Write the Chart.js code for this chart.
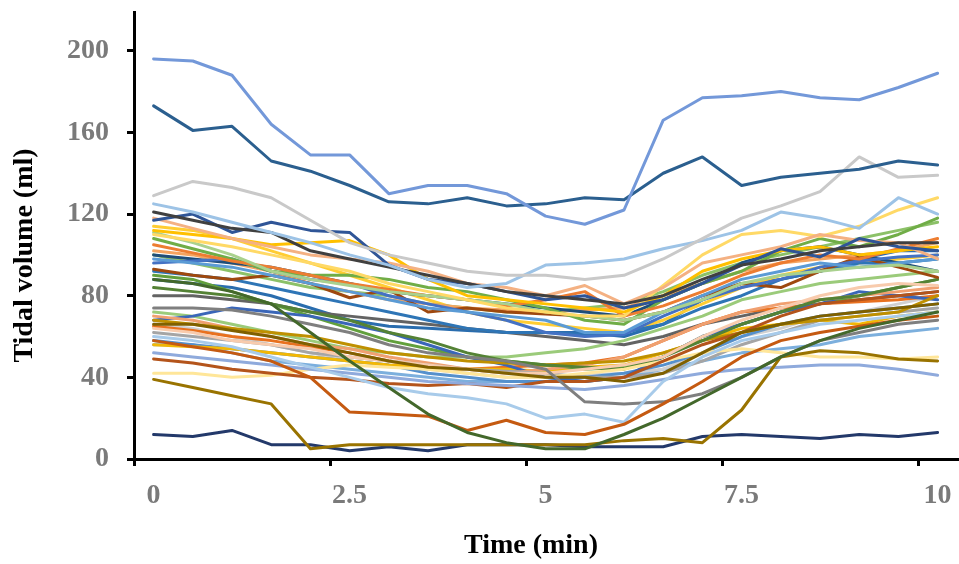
<!DOCTYPE html>
<html>
<head>
<meta charset="utf-8">
<script src="https://cdn.jsdelivr.net/npm/chart.js@4/dist/chart.umd.min.js"></script>
<style>
  html, body { margin: 0; padding: 0; background: #fff; }
  canvas { display: block; }
</style>
</head>
<body>
<canvas id="tvChart" width="959" height="564"></canvas>
<script>
// time points (min)
const times = [0, 0.5, 1, 1.5, 2, 2.5, 3, 3.5, 4, 4.5, 5, 5.5, 6, 6.5, 7, 7.5, 8, 8.5, 9, 9.5, 10];

// tidal volume per subject (ml)
const p01 = [196, 195, 188, 164, 149, 149, 130, 134, 134, 130, 119, 115, 122, 166, 177, 178, 180, 177, 176, 182, 189];
const p02 = [173, 161, 163, 146, 141, 134, 126, 125, 128, 124, 125, 128, 127, 140, 148, 134, 138, 140, 142, 146, 144];
const p03 = [129, 136, 133, 128, 117, 106, 100, 96, 92, 90, 90, 88, 90, 98, 108, 118, 124, 131, 148, 138, 139];
const p04 = [125, 121, 116, 111, 106, 100, 95, 88, 84, 86, 95, 96, 98, 103, 107, 112, 121, 118, 113, 128, 120];
const p05 = [121, 117, 113, 111, 102, 98, 94, 90, 86, 82, 80, 78, 76, 80, 88, 95, 98, 102, 104, 106, 106];
const p06 = [117, 120, 111, 116, 112, 111, 95, 88, 86, 82, 78, 80, 74, 78, 86, 95, 103, 99, 108, 104, 102];
const p07 = [118, 113, 108, 104, 100, 98, 96, 92, 86, 84, 80, 85, 76, 84, 96, 100, 104, 110, 107, 106, 98];
const p08 = [112, 110, 108, 105, 106, 107, 100, 88, 80, 78, 76, 74, 72, 80, 92, 98, 102, 104, 100, 102, 104];
const p09 = [110, 107, 104, 100, 96, 92, 86, 82, 78, 74, 72, 70, 70, 85, 100, 110, 112, 109, 114, 122, 128];
const p10 = [111, 106, 100, 92, 88, 85, 82, 80, 78, 76, 72, 70, 68, 72, 78, 86, 90, 92, 94, 95, 92];
const p11 = [105, 101, 97, 94, 90, 86, 83, 80, 78, 75, 78, 82, 70, 75, 82, 90, 96, 100, 98, 103, 108];
const p12 = [108, 103, 98, 92, 90, 90, 88, 84, 82, 78, 74, 68, 66, 78, 86, 92, 102, 108, 104, 110, 118];
const p13 = [98, 96, 94, 90, 86, 82, 78, 74, 72, 70, 68, 62, 62, 72, 80, 88, 92, 96, 94, 96, 98];
const p14 = [96, 97, 98, 92, 88, 86, 80, 76, 72, 68, 62, 60, 61, 70, 78, 84, 88, 94, 97, 99, 100];
const p15 = [93, 90, 88, 90, 86, 79, 83, 72, 74, 72, 71, 70, 68, 72, 80, 86, 84, 92, 99, 94, 89];
const p16 = [88, 86, 82, 76, 62, 48, 35, 22, 13, 8, 5, 5, 12, 20, 30, 40, 50, 58, 64, 68, 72];
const p17 = [39, 35, 31, 27, 5, 7, 7, 7, 7, 7, 7, 7, 9, 10, 8, 24, 50, 53, 52, 49, 48];
const p18 = [12, 11, 14, 7, 7, 4, 6, 4, 7, 7, 7, 6, 6, 6, 11, 12, 11, 10, 12, 11, 13];
const p19 = [58, 55, 52, 48, 40, 23, 22, 21, 14, 19, 13, 12, 17, 27, 38, 50, 58, 62, 65, 68, 70];
const p20 = [60, 58, 55, 50, 45, 40, 35, 32, 30, 27, 20, 22, 18, 38, 50, 58, 62, 66, 68, 70, 72];
const p21 = [74, 74, 73, 70, 66, 62, 56, 52, 50, 48, 44, 28, 27, 28, 32, 40, 50, 58, 62, 66, 68];
const p22 = [52, 50, 48, 46, 44, 42, 40, 38, 37, 36, 35, 34, 36, 39, 42, 44, 45, 46, 46, 44, 41];
const p23 = [66, 66, 63, 60, 56, 52, 48, 45, 44, 42, 40, 40, 38, 42, 52, 62, 66, 70, 72, 74, 76];
const p24 = [49, 47, 44, 42, 40, 39, 37, 36, 37, 35, 38, 38, 40, 48, 56, 62, 70, 76, 78, 80, 82];
const p25 = [64, 62, 58, 56, 54, 50, 48, 46, 44, 42, 42, 44, 46, 50, 60, 68, 74, 80, 84, 86, 85];
const p26 = [42, 42, 40, 41, 44, 46, 45, 44, 42, 40, 40, 42, 44, 48, 52, 54, 52, 50, 50, 49, 50];
const p27 = [92, 90, 88, 84, 80, 76, 72, 68, 64, 62, 62, 61, 62, 66, 74, 80, 88, 92, 96, 96, 98];
const p28 = [84, 82, 80, 76, 72, 68, 62, 58, 52, 48, 46, 45, 44, 50, 58, 66, 72, 78, 80, 84, 88];
const p29 = [68, 66, 64, 62, 60, 56, 52, 50, 48, 47, 46, 47, 48, 52, 58, 62, 66, 68, 70, 72, 80];
const p30 = [62, 60, 58, 56, 52, 50, 48, 46, 44, 43, 42, 40, 40, 42, 48, 56, 62, 68, 70, 72, 74];
const p31 = [70, 68, 64, 60, 56, 54, 50, 47, 44, 42, 44, 46, 50, 58, 66, 72, 76, 78, 80, 82, 84];
const p32 = [68, 70, 74, 72, 70, 66, 62, 56, 50, 46, 40, 38, 40, 50, 60, 66, 72, 76, 82, 80, 78];
const p33 = [90, 88, 82, 76, 70, 64, 58, 54, 50, 48, 46, 44, 45, 50, 60, 66, 72, 76, 80, 84, 88];
const p34 = [56, 55, 54, 52, 50, 48, 46, 45, 44, 44, 43, 45, 46, 52, 58, 64, 66, 68, 66, 70, 72];
const p35 = [65, 63, 60, 58, 55, 52, 48, 45, 44, 45, 46, 47, 50, 58, 66, 72, 74, 76, 77, 78, 80];
const p36 = [58, 56, 54, 52, 50, 48, 46, 42, 40, 38, 38, 40, 42, 46, 52, 60, 66, 70, 72, 74, 76];
const p37 = [72, 70, 66, 62, 58, 54, 52, 50, 50, 50, 52, 54, 58, 64, 70, 78, 82, 86, 88, 90, 92];
const p38 = [100, 98, 96, 94, 90, 86, 82, 80, 78, 76, 74, 72, 70, 78, 86, 96, 102, 104, 100, 96, 92];
const p39 = [66, 64, 60, 56, 52, 48, 46, 44, 42, 40, 40, 41, 42, 44, 52, 60, 64, 70, 72, 76, 80];
const p40 = [102, 100, 96, 92, 86, 82, 78, 76, 74, 73, 72, 73, 74, 80, 86, 92, 96, 98, 100, 102, 106];
const p41 = [100, 96, 92, 88, 84, 82, 80, 76, 74, 72, 72, 74, 76, 82, 90, 96, 100, 104, 108, 112, 116];
const p42 = [114, 112, 108, 102, 96, 90, 84, 78, 72, 68, 66, 64, 62, 68, 76, 84, 90, 94, 96, 98, 100];
const p43 = [56, 56, 52, 48, 46, 44, 42, 40, 38, 38, 38, 38, 40, 44, 48, 52, 54, 56, 60, 62, 64];
const p44 = [80, 80, 78, 76, 72, 70, 68, 66, 64, 62, 60, 58, 56, 60, 66, 70, 74, 76, 78, 80, 82];
const p45 = [88, 86, 84, 80, 74, 68, 65, 64, 63, 62, 62, 62, 60, 66, 78, 86, 88, 92, 98, 102, 102];

const series = [p01, p02, p03, p04, p05, p06, p07, p08, p09, p10, p11, p12, p13, p14, p15,
  p16, p17, p18, p19, p20, p21, p22, p23, p24, p25, p26, p27, p28, p29, p30,
  p31, p32, p33, p34, p35, p36, p37, p38, p39, p40, p41, p42, p43, p44, p45];

const colors = ["#7398d9", "#2b5f8f", "#c9c9c9", "#9dc3e6", "#404040", "#2f5597", "#f4b183", "#ffc000",
  "#ffd966", "#a9d18e", "#ed7d31", "#70ad47", "#5b9bd5", "#4472c4", "#9e480e", "#43682b", "#997300",
  "#23396a", "#c55a11", "#a8cbea", "#7f7f7f", "#8faadc", "#7f6000", "#b4541b", "#f8cbad", "#ffe699",
  "#2e75b6", "#548235", "#bf9000", "#a5a5a5", "#f0a070", "#3a66b8", "#62a03c", "#f2b705", "#e8711f",
  "#5590cc", "#9bcb7a", "#1f4e79", "#d0d0d0", "#f4a460", "#8cc168", "#ffcd33", "#7cafdd", "#636363",
  "#2a6dae"];

const xTicks = [0, 2.5, 5, 7.5, 10];
const yTicks = [0, 40, 80, 120, 160, 200];
const xTitle = "Time (min)";
const yTitle = "Tidal volume (ml)";

// excel puts the tick marks a quarter minute left of the labels
const tickShift = 0.25;
const serif = "'Liberation Serif', 'Times New Roman', serif";

const axisTitles = {
  id: "axisTitles",
  afterDraw(chart) {
    const { ctx, chartArea } = chart;
    ctx.save();
    ctx.fillStyle = "#000";
    ctx.font = "bold 28px " + serif;
    ctx.textAlign = "center";
    ctx.textBaseline = "middle";
    ctx.fillText(xTitle, (chartArea.left + chartArea.right) / 2 - 15, chart.height - 18);
    ctx.translate(25, (chartArea.top + chartArea.bottom) / 2 + 20);
    ctx.rotate(-Math.PI / 2);
    ctx.fillText(yTitle, 0, 0);
    ctx.restore();
  },
};

function createChart() {
  const ctx = document.getElementById("tvChart");
  const datasets = series.map((vals, i) => ({
    data: vals.map((v, j) => ({ x: times[j], y: v })),
    borderColor: colors[i],
    borderWidth: 3,
    borderJoinStyle: "round",
    borderCapStyle: "round",
    pointRadius: 0,
    tension: 0,
    fill: false,
  }));

  new Chart(ctx, {
    type: "line",
    data: { datasets },
    plugins: [axisTitles],
    options: {
      responsive: false,
      animation: false,
      layout: { padding: { top: 12, right: 1, left: 0, bottom: 0 } },
      plugins: { legend: { display: false }, tooltip: { enabled: false } },
      scales: {
        x: {
          type: "linear",
          min: -tickShift,
          max: 10.26,
          afterBuildTicks: (scale) => {
            scale.ticks = xTicks.map((v) => ({ value: v - tickShift }));
          },
          afterFit: (scale) => {
            scale.height = 105;
            scale.paddingLeft = 0;
            scale.paddingRight = 0;
          },
          ticks: {
            autoSkip: false,
            maxRotation: 0,
            labelOffset: 19.6,
            padding: 13,
            color: "#7a7a7a",
            font: { family: serif, size: 28, weight: "bold" },
            callback: (value) => String(Math.round((value + tickShift) * 10) / 10),
          },
          grid: { drawOnChartArea: false, drawTicks: true, tickLength: 7, color: "#000", lineWidth: 3 },
          border: { display: true, color: "#000", width: 3 },
        },
        y: {
          min: 0,
          max: 219,
          afterBuildTicks: (scale) => {
            scale.ticks = yTicks.map((v) => ({ value: v }));
          },
          afterFit: (scale) => {
            scale.width = 134;
            scale.paddingTop = 0;
            scale.paddingBottom = 0;
          },
          ticks: {
            padding: 18,
            color: "#7a7a7a",
            font: { family: serif, size: 28, weight: "bold" },
          },
          grid: { drawOnChartArea: false, drawTicks: true, tickLength: 7, color: "#000", lineWidth: 3 },
          border: { display: true, color: "#000", width: 3 },
        },
      },
    },
  });
}

window.addEventListener("load", function () {
  createChart();
});
</script>
</body>
</html>
